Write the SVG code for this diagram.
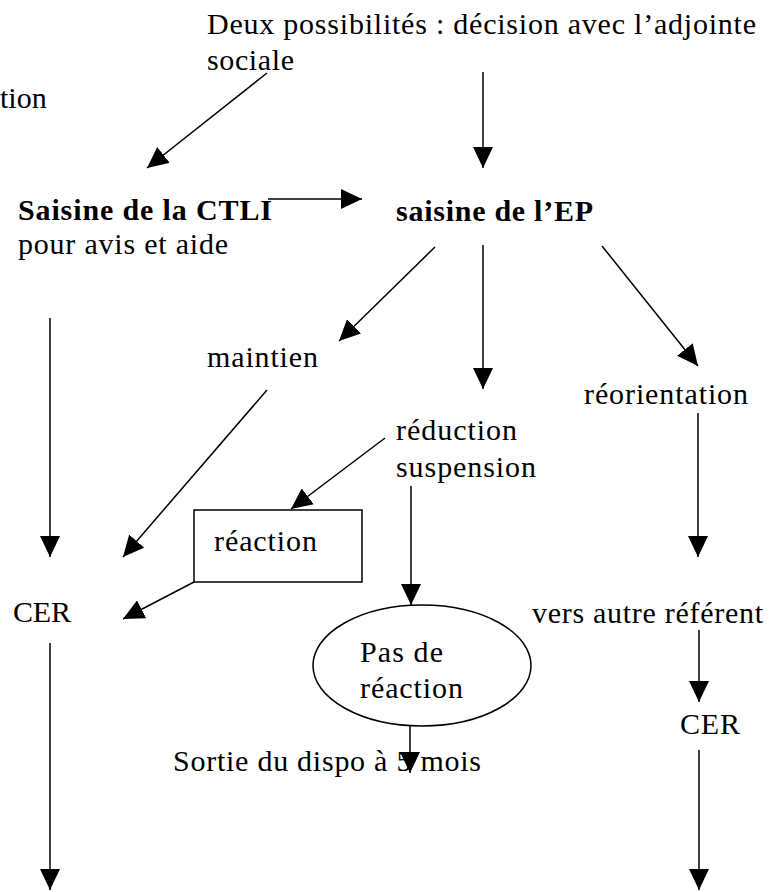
<svg xmlns="http://www.w3.org/2000/svg" width="775" height="892" viewBox="0 0 775 892">
<style>
.b{font-weight:bold}
.c line{stroke:#000;stroke-width:1.5;marker-end:url(#ah)}
.shape{fill:none;stroke:#000;stroke-width:1.5}
</style>
<defs>
<marker id="ah" markerUnits="userSpaceOnUse" markerWidth="21" markerHeight="20" refX="21" refY="10" orient="auto" viewBox="0 0 21 20">
<path d="M0,0 L21,10 L0,20 z" fill="#000"/>
</marker>
</defs>
<rect width="775" height="892" fill="#fff"/>
<g font-family="'Liberation Serif', 'Times New Roman', serif" font-size="30" fill="#000">
<g id="n-deux"><text x="207" y="34" textLength="549">Deux possibilités : décision avec l’adjointe</text><text x="207" y="70" textLength="87">sociale</text></g>
<g id="n-tion"><text x="0" y="108">tion</text></g>
<g id="n-ctli"><text x="18" y="220" class="b" textLength="254">Saisine de la CTLI</text><text x="18" y="254" textLength="210">pour avis et aide</text></g>
<g id="n-ep"><text x="396" y="221" class="b" textLength="197">saisine de l’EP</text></g>
<g id="n-maintien"><text x="207" y="367" textLength="111">maintien</text></g>
<g id="n-reorientation"><text x="584" y="404" textLength="164">réorientation</text></g>
<g id="n-reduction"><text x="396" y="440" textLength="121">réduction</text><text x="396" y="477" textLength="140">suspension</text></g>
<g id="n-reaction"><rect class="shape" x="194" y="510" width="168" height="72"/><text x="214" y="551" textLength="103">réaction</text></g>
<g id="n-cer1"><text x="13" y="622" textLength="58">CER</text></g>
<g id="n-vers"><text x="532" y="623" textLength="231">vers autre référent</text></g>
<g id="n-pasde"><ellipse class="shape" cx="422" cy="665.5" rx="109" ry="60.5"/><text x="360" y="662" textLength="83">Pas de</text><text x="360" y="698" textLength="103">réaction</text></g>
<g id="n-sortie"><text x="173" y="771" textLength="308">Sortie du dispo à 5 mois</text></g>
<g id="n-cer2"><text x="680" y="734" textLength="60">CER</text></g>
</g>
<g id="connectors" class="c">
<line x1="267" y1="73" x2="147" y2="168"/>
<line x1="483" y1="72" x2="483" y2="168"/>
<line x1="268" y1="199" x2="362" y2="199"/>
<line x1="50" y1="318" x2="50" y2="557"/>
<line x1="435" y1="247" x2="339" y2="341"/>
<line x1="483" y1="245" x2="483" y2="389"/>
<line x1="602" y1="246" x2="698" y2="366"/>
<line x1="267" y1="390" x2="123" y2="557"/>
<line x1="385" y1="438" x2="291" y2="509"/>
<line x1="194" y1="582" x2="123" y2="619"/>
<line x1="411" y1="486" x2="411" y2="605"/>
<line x1="698" y1="413" x2="698" y2="557"/>
<line x1="410" y1="726" x2="410" y2="773"/>
<line x1="699" y1="630" x2="699" y2="702"/>
<line x1="50" y1="643" x2="50" y2="890"/>
<line x1="699" y1="750" x2="699" y2="890"/>
</g>
</svg>
